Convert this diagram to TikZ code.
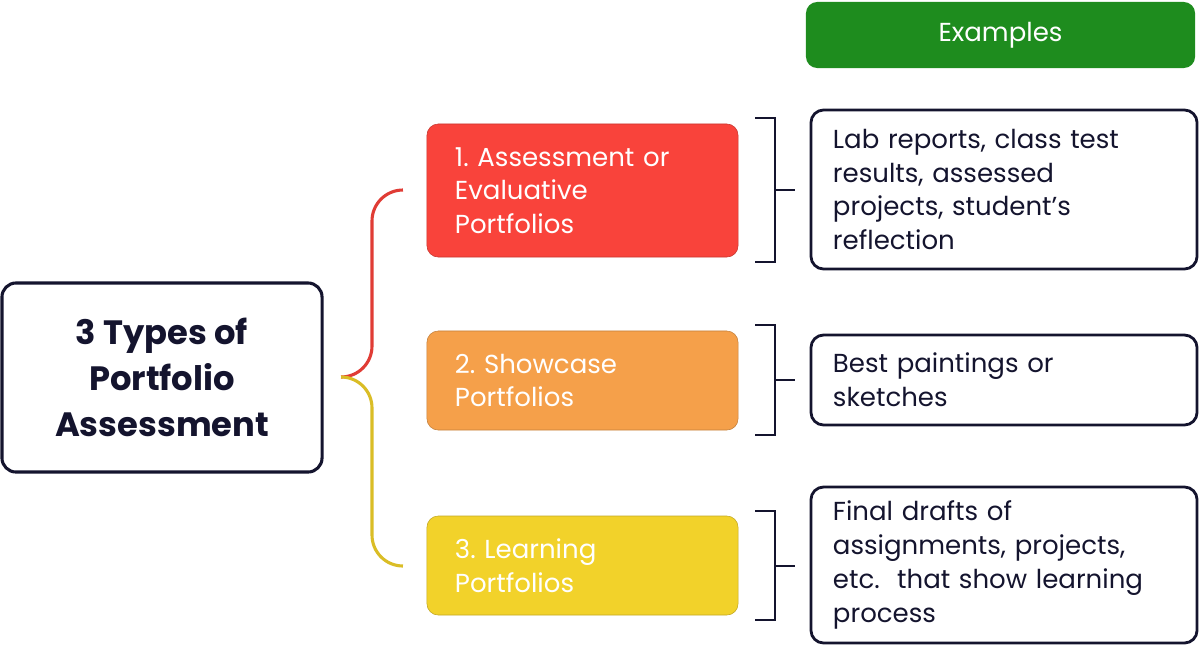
\documentclass[tikz,border=0pt]{standalone}
\usepackage{fontspec}
\setmainfont{Poppins}
\frenchspacing
\definecolor{navy}{HTML}{14142E}
\definecolor{exgreen}{HTML}{1E8C1E}
\definecolor{typered}{HTML}{F9433B}
\definecolor{typeorange}{HTML}{F5A04A}
\definecolor{typeyellow}{HTML}{F2D22A}
\tikzset{
	typebox/.style={rounded corners=8pt, draw=#1!80!black, line width=0.4pt, fill=#1, align=left, text width=6.375cm, inner xsep=0.7cm, font=\fontsize{18.5}{24}\selectfont, text=white},
	examplebox/.style={rounded corners=9pt, draw=navy, line width=2pt, align=left, text width=8.55cm, inner xsep=0.55cm, font=\fontsize{18.5}{24}\selectfont, text=navy},
	bracket/.style={navy, line width=2pt},
}
\begin{document}
\begin{tikzpicture}[x=0.025cm, y=-0.025cm]
	\useasboundingbox (0,0) rectangle (1200,647);
	%heading
	\node[fill=exgreen, rounded corners=8pt, minimum width=9.725cm, minimum height=1.65cm, text=white, font=\fontsize{18.5}{24}\selectfont] (examples) at (1000.5,35) {Examples};

	%main box
	\node[draw=navy, line width=2.2pt, rounded corners=10pt, minimum width=8cm, minimum height=4.725cm, align=center, text=navy, font=\fontsize{24}{32.5}\selectfont\bfseries] (main) at (162,377.5) {3 Types of\\Portfolio\\Assessment};

	%portfolio types
	\node[typebox=typered, minimum height=3.325cm] (assess) at (582.5,190.5) {1. Assessment or\\Evaluative\\Portfolios};
	\node[typebox=typeorange, minimum height=2.475cm] (show) at (582.5,380.5) {2. Showcase\\Portfolios};
	\node[typebox=typeyellow, minimum height=2.475cm] (learn) at (582.5,565.5) {3. Learning\\Portfolios};

	%examples
	\node[examplebox, minimum height=3.975cm] (exassess) at (1004,189.5) {Lab reports, class test\\results, assessed\\projects, student's\\reflection};
	\node[examplebox, minimum height=2.25cm] (exshow) at (1004,380) {Best paintings or\\sketches};
	\node[examplebox, minimum height=3.9cm] (exlearn) at (1004,565) {Final drafts of\\assignments, projects,\\etc.\ \ that show learning\\process};

	%brace
	\coordinate (hub) at (342,377);
	\draw[typered!90!black, line width=2.2pt, rounded corners=22pt] (hub) -| (372,190) -- (402,190);
	\draw[typeyellow!90!black, line width=2.2pt, rounded corners=22pt] (hub) -| (372,566) -- (402,566);

	%brackets
	\draw[bracket] (755,118) -- (775,118) -- (775,262) -- (755,262);
	\draw[bracket] (775,190) -- (795,190);
	\draw[bracket] (755,325) -- (775,325) -- (775,435) -- (755,435);
	\draw[bracket] (775,380) -- (795,380);
	\draw[bracket] (755,511) -- (775,511) -- (775,620) -- (755,620);
	\draw[bracket] (775,566) -- (795,566);
\end{tikzpicture}
\end{document}
